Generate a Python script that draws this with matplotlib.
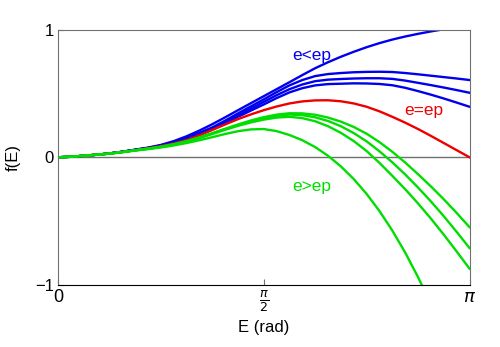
import numpy as np
import matplotlib
matplotlib.use("Agg")
import matplotlib.pyplot as plt

plt.rcParams['font.family'] = ['Liberation Sans', 'DejaVu Sans']

E = np.arange(33) * np.pi / 32

blue = [
    [0, .004, .012, .02, .03, .044, .06, .076, .097, .127, .165, .21, .26, .314, .37, .425, .48,
     .535, .59, .646, .70, .747, .79, .829, .865, .897, .925, .949, .97, .989, 1.006, 1.023, 1.04],
    [0, .004, .012, .02, .03, .043, .058, .073, .093, .121, .155, .192, .235, .288, .345, .40, .455,
     .512, .565, .607, .638, .654, .662, .668, .671, .672, .670, .662, .652, .641, .63, .619, .607],
    [0, .004, .012, .02, .03, .043, .058, .073, .092, .118, .15, .186, .228, .277, .33, .383, .435,
     .488, .535, .572, .598, .610, .615, .619, .621, .621, .616, .6025, .585, .567, .548, .528, .507],
    [0, .004, .012, .02, .03, .0426, .057, .072, .09, .115, .145, .18, .22, .268, .318, .367, .415,
     .465, .51, .543, .565, .575, .578, .581, .58, .576, .566, .546, .52, .492, .462, .43, .397],
]
red = [0, .004, .012, .02, .03, .042, .056, .0707, .088, .1085, .135, .1726, .215, .258, .30, .337, .37,
       .399, .423, .439, .447, .448, .44, .423, .397, .361, .318, .272, .222, .168, .112, .056, 0]
green = [
    [0, .004, .012, .02, .029, .041, .055, .068, .083, .103, .127, .157, .19, .224, .258, .289, .315,
     .335, .346, .345, .334, .312, .28, .238, .185, .119, .043, -.0416, -.133, -.229, -.33, -.437, -.549],
    [0, .004, .012, .02, .029, .041, .055, .0675, .082, .101, .124, .154, .187, .2206, .253, .282, .307,
     .326, .336, .331, .314, .285, .244, .19, .125, .047, -.04, -.135, -.238, -.347, -.463, -.586, -.713],
    [0, .004, .012, .02, .029, .041, .054, .0665, .081, .099, .122, .151, .183, .216, .247, .274, .296,
     .312, .318, .3076, .283, .244, .192, .127, .049, -.044, -.146, -.251, -.363, -.482, -.608, -.740, -.875],
    [0, .004, .012, .02, .028, .04, .053, .064, .077, .093, .112, .134, .158, .183, .205, .219, .222,
     .2055, .175, .134, .08, .0116, -.072, -.1715, -.288, -.4226, -.576, -.749, -.942, -1.1545, -1.39, -1.65, -1.94],
]

fig = plt.figure(figsize=(5, 3.47), dpi=100)
ax = fig.add_axes([0.116, 0.18, 0.823, 0.7335])

ax.axhline(0, color='#707070', lw=1.0, zorder=1)
for y in blue:
    ax.plot(E, y, color='#0000ee', lw=1.7)
ax.plot(E, red, color='#ee0000', lw=1.7)
for y in green:
    ax.plot(E, y, color='#00dd00', lw=1.7)

ax.text(1.94, 0.80, 'e<ep', color='#0000ee', fontsize=12.5, ha='center', va='center')
ax.text(2.79, 0.365, 'e=ep', color='#ee0000', fontsize=12.5, ha='center', va='center')
ax.text(1.94, -0.23, 'e>ep', color='#00dd00', fontsize=12.5, ha='center', va='center')

ax.set_xlim(0, np.pi)
ax.set_ylim(-1, 1)
ax.set_xticks([0, np.pi / 2, np.pi])
ax.set_xticklabels(['0', r'$\frac{\pi}{2}$', r'$\pi$'])
ax.set_yticks([-1, 0, 1])
ax.set_yticklabels(['\u22121', '0', '1'])
ax.tick_params(direction='in', length=4, labelsize=12, color='#707070', pad=3)
ax.tick_params(axis='x', labelsize=13)

for side in ['left', 'top', 'right']:
    ax.spines[side].set_color('#707070')
ax.spines['bottom'].set_color('black')

ax.set_xlabel('E (rad)', fontsize=12)
ax.set_ylabel('f(E)', fontsize=12, labelpad=10)

fig.savefig('out.png', dpi=100)
